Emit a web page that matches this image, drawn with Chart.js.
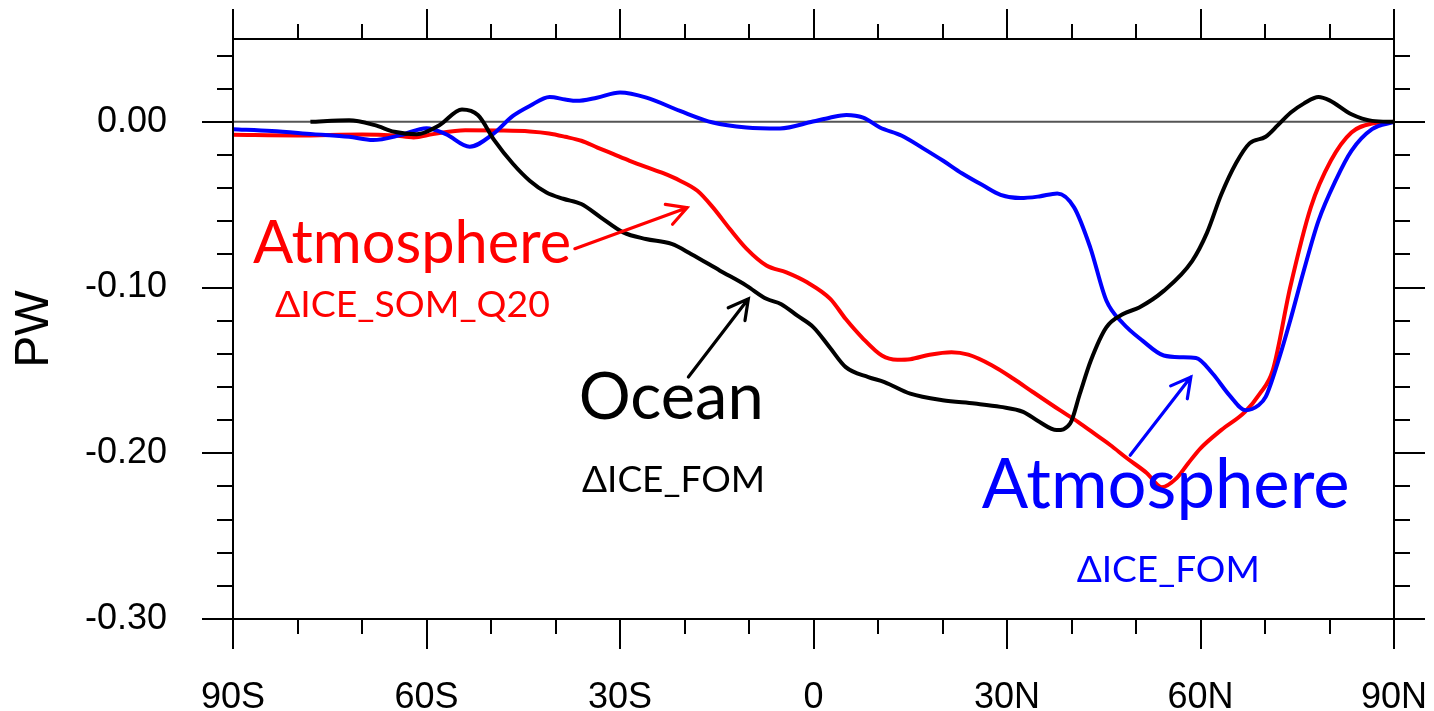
<!DOCTYPE html>
<html>
<head>
<meta charset="utf-8">
<script src="https://cdn.jsdelivr.net/npm/chart.js@4.4.1/dist/chart.umd.min.js"></script>
<style>
	html, body { margin: 0; background: #fff; }
</style>
</head>
<body>
<canvas id="heatChart" width="1434" height="711"></canvas>
<script>
// axis ticks
const xTickVals = [ -90, -60, -30, 0, 30, 60, 90 ];
const xTickLabels = [ '90S', '60S', '30S', '0', '30N', '60N', '90N' ];
const yTickVals = [ -0.3, -0.2, -0.1, 0 ];
const yTickLabels = [ '-0.30', '-0.20', '-0.10', '0.00' ];

// Atmosphere, ΔICE_SOM_Q20 (red)
const latRed = [ -90, -80, -70, -65, -62, -59, -54, -49, -44, -41, -38.5, -36, -33.5, -31, -28.5, -26, -23.3, -20.7, -18, -15.6, -13, -10.4, -7.3, -4.2, -1, 2.6, 5, 7.5, 10.6, 13, 15, 18, 21.4, 24, 27.7, 31, 34, 38.2, 41, 44.2, 46, 48.6, 51.7, 54, 56.3, 58.1, 60, 63.2, 66.9, 69.2, 71.2, 73.9, 77.1, 80.2, 83.4, 86.6, 90 ];
const pwRed = [ -0.0078, -0.0082, -0.0076, -0.0082, -0.0094, -0.0074, -0.005, -0.0052, -0.0058, -0.007, -0.009, -0.0114, -0.0155, -0.0195, -0.0235, -0.0272, -0.031, -0.0355, -0.0416, -0.0516, -0.0645, -0.0765, -0.0867, -0.0908, -0.0968, -0.1068, -0.119, -0.13, -0.141, -0.1435, -0.1432, -0.1405, -0.139, -0.1405, -0.147, -0.155, -0.163, -0.174, -0.181, -0.19, -0.195, -0.203, -0.212, -0.2205, -0.215, -0.206, -0.197, -0.186, -0.175, -0.164, -0.15, -0.1, -0.0516, -0.0235, -0.0064, -0.001, 0 ];

// Atmosphere, ΔICE_FOM (blue)
const latBlue = [ -90, -84, -77.6, -72, -68.3, -64, -60, -57, -53.3, -49.7, -46.6, -44, -40.9, -38.5, -36.7, -33.6, -30, -25.9, -20.7, -15.6, -10.4, -5.2, -0.1, 2.5, 5.1, 7.7, 10.3, 13.7, 17, 20.1, 23, 26.4, 29, 32.1, 35, 37.8, 40.4, 42.9, 45.4, 48, 51, 54.3, 57, 59.3, 61.9, 64.5, 67, 69, 70.1, 72, 73.9, 76, 78.3, 81, 83.4, 86.6, 90 ];
const pwBlue = [ -0.0044, -0.0055, -0.0074, -0.009, -0.011, -0.008, -0.0038, -0.0074, -0.015, -0.0074, 0.0036, 0.0096, 0.015, 0.0135, 0.0127, 0.0146, 0.0177, 0.0146, 0.0066, -0.0004, -0.0034, -0.004, 0.0002, 0.0025, 0.0042, 0.0026, -0.0034, -0.0084, -0.016, -0.0235, -0.031, -0.0386, -0.044, -0.046, -0.045, -0.0432, -0.0516, -0.0757, -0.1078, -0.1217, -0.132, -0.141, -0.142, -0.1425, -0.152, -0.165, -0.174, -0.171, -0.166, -0.145, -0.12, -0.09, -0.0596, -0.035, -0.0175, -0.0044, 0 ];

// Ocean, ΔICE_FOM (black)
const latBlack = [ -78, -72, -68, -65, -61.5, -58, -54.5, -52, -49.5, -46.6, -44, -41.4, -38.8, -36, -33, -29.5, -26, -22, -19, -14.5, -10.4, -7.3, -5, -2.5, 0, 2.5, 5, 8.5, 11, 15, 20, 25, 29, 32.5, 35, 37.7, 39.8, 41.3, 43, 45.4, 48, 50.5, 54.3, 58.7, 61, 63.2, 65.5, 67.6, 70.1, 72, 74, 76, 78.3, 80, 83.4, 86.6, 90 ];
const pwBlack = [ 0, 0.001, -0.002, -0.006, -0.0075, -0.002, 0.0075, 0.004, -0.011, -0.0253, -0.0355, -0.0426, -0.0464, -0.0496, -0.0576, -0.0667, -0.0707, -0.0737, -0.0797, -0.0898, -0.0988, -0.1068, -0.11, -0.117, -0.124, -0.136, -0.148, -0.154, -0.157, -0.164, -0.168, -0.17, -0.172, -0.175, -0.181, -0.186, -0.182, -0.164, -0.144, -0.124, -0.116, -0.112, -0.102, -0.084, -0.067, -0.044, -0.025, -0.013, -0.009, -0.002, 0.0056, 0.011, 0.015, 0.013, 0.0046, 0.0006, 0 ];

// annotations: text, colour, font size, lat, PW (left / baseline)
const noteTexts = [ 'Atmosphere', 'ΔICE_SOM_Q20', 'Ocean', 'ΔICE_FOM', 'Atmosphere', 'ΔICE_FOM' ];
const noteColors = [ '#ff0000', '#ff0000', '#000000', '#000000', '#0000ff', '#0000ff' ];
const noteSizes = [ 59.5, 37.4, 65, 37, 68.8, 37 ];
const noteLat = [ -86.9, -83.5, -36.4, -35.9, 26.1, 40.8 ];
const notePW = [ -0.0849, -0.1179, -0.1791, -0.2233, -0.2333, -0.2775 ];

// arrows: from -> to (lat, PW)
const arrowColors = [ '#ff0000', '#000000', '#0000ff' ];
const arrowFrom = [ [ -37.0, -0.0765 ], [ -19.4, -0.154 ], [ 49.1, -0.2012 ] ];
const arrowTo = [ [ -19.6, -0.0518 ], [ -10.1, -0.1068 ], [ 58.5, -0.154 ] ];

const toPoints = ( lats, vals ) => lats.map( ( x, i ) => ( { x, y: vals[ i ] } ) );

const noPad = ( s ) => {
	s.paddingLeft = 0;
	s.paddingRight = 0;
	s.paddingTop = 0;
	s.paddingBottom = 0;
};

const frameTicks = {
	id: 'frameTicks',
	beforeDatasetsDraw( chart ) {
		const { ctx, chartArea: a, scales } = chart;
		const y0 = scales.y.getPixelForValue( 0 );
		ctx.save();
		ctx.strokeStyle = '#555';
		ctx.lineWidth = 2;
		ctx.beginPath();
		ctx.moveTo( a.left, y0 );
		ctx.lineTo( a.right, y0 );
		ctx.stroke();
		ctx.restore();
	},
	afterDatasetsDraw( chart ) {
		const { ctx, chartArea: a, scales } = chart;
		ctx.save();
		ctx.strokeStyle = '#000';
		ctx.lineWidth = 2;
		ctx.strokeRect( a.left, a.top, a.right - a.left, a.bottom - a.top );
		ctx.beginPath();
		for ( let v = -90; v <= 90; v += 10 ) {
			const px = Math.round( scales.x.getPixelForValue( v ) );
			const len = v % 30 === 0 ? 30 : 15;
			ctx.moveTo( px, a.bottom );
			ctx.lineTo( px, a.bottom + len );
			ctx.moveTo( px, a.top );
			ctx.lineTo( px, a.top - len );
		}
		for ( let k = -15; k <= 2; k++ ) {
			const py = Math.round( scales.y.getPixelForValue( k * 0.02 ) );
			const len = k % 5 === 0 ? 31 : 16;
			ctx.moveTo( a.left - len, py );
			ctx.lineTo( a.left, py );
			ctx.moveTo( a.right, py );
			ctx.lineTo( a.right + len, py );
		}
		ctx.stroke();

		// text notes
		ctx.textAlign = 'left';
		ctx.textBaseline = 'alphabetic';
		noteTexts.forEach( ( t, i ) => {
			ctx.fillStyle = noteColors[ i ];
			ctx.font = noteSizes[ i ] + 'px Lato, "Open Sans", sans-serif';
			ctx.fillText( t, scales.x.getPixelForValue( noteLat[ i ] ), scales.y.getPixelForValue( notePW[ i ] ) );
		} );

		// arrows
		ctx.lineWidth = 3.2;
		ctx.lineCap = 'round';
		arrowColors.forEach( ( c, i ) => {
			const x1 = scales.x.getPixelForValue( arrowFrom[ i ][ 0 ] );
			const y1 = scales.y.getPixelForValue( arrowFrom[ i ][ 1 ] );
			const x2 = scales.x.getPixelForValue( arrowTo[ i ][ 0 ] );
			const y2 = scales.y.getPixelForValue( arrowTo[ i ][ 1 ] );
			const ang = Math.atan2( y2 - y1, x2 - x1 );
			const h = 22;
			ctx.strokeStyle = c;
			ctx.beginPath();
			ctx.moveTo( x1, y1 );
			ctx.lineTo( x2, y2 );
			ctx.moveTo( x2 - h * Math.cos( ang - 0.5 ), y2 - h * Math.sin( ang - 0.5 ) );
			ctx.lineTo( x2, y2 );
			ctx.lineTo( x2 - h * Math.cos( ang + 0.5 ), y2 - h * Math.sin( ang + 0.5 ) );
			ctx.stroke();
		} );
		ctx.restore();
	},
};

const tickFont = { family: '"Liberation Sans", Arial, sans-serif', size: 36 };

new Chart( document.getElementById( 'heatChart' ), {
	type: 'line',
	data: {
		datasets: [
			{
				data: toPoints( latBlack, pwBlack ),
				borderColor: '#000000',
				order: 0,
			},
			{
				data: toPoints( latBlue, pwBlue ),
				borderColor: '#0000ff',
				order: 1,
			},
			{
				data: toPoints( latRed, pwRed ),
				borderColor: '#ff0000',
				order: 2,
			},
		],
	},
	options: {
		responsive: false,
		animation: false,
		layout: { padding: 0 },
		datasets: {
			line: {
				borderWidth: 4,
				pointRadius: 0,
				cubicInterpolationMode: 'monotone',
				fill: false,
			},
		},
		plugins: {
			legend: { display: false },
			tooltip: { enabled: false },
		},
		scales: {
			x: {
				type: 'linear',
				min: -90,
				max: 90,
				grid: { display: false },
				border: { display: false },
				afterBuildTicks: ( s ) => { s.ticks = xTickVals.map( ( value ) => ( { value } ) ); },
				afterFit: ( s ) => { s.height = 92; noPad( s ); },
				ticks: {
					autoSkip: false,
					maxRotation: 0,
					padding: 49,
					color: '#000',
					font: tickFont,
					callback: ( v ) => xTickLabels[ xTickVals.indexOf( v ) ],
				},
			},
			xTop: {
				type: 'linear',
				position: 'top',
				min: -90,
				max: 90,
				grid: { display: false },
				border: { display: false },
				ticks: { display: false },
				afterFit: ( s ) => { s.height = 39; noPad( s ); },
			},
			y: {
				min: -0.3,
				max: 0.05,
				grid: { display: false },
				border: { display: false },
				afterBuildTicks: ( s ) => { s.ticks = yTickVals.map( ( value ) => ( { value } ) ); },
				afterFit: ( s ) => { s.width = 233; noPad( s ); },
				title: {
					display: true,
					text: 'PW',
					color: '#000',
					font: { family: '"Liberation Sans", Arial, sans-serif', size: 48 },
					padding: { top: 6, bottom: 0 },
				},
				ticks: {
					padding: 58,
					color: '#000',
					font: tickFont,
					callback: ( v ) => yTickLabels[ yTickVals.indexOf( v ) ],
				},
			},
			yRight: {
				position: 'right',
				min: -0.3,
				max: 0.05,
				grid: { display: false },
				border: { display: false },
				ticks: { display: false },
				afterFit: ( s ) => { s.width = 40; noPad( s ); },
			},
		},
	},
	plugins: [ frameTicks ],
} );
</script>
</body>
</html>
